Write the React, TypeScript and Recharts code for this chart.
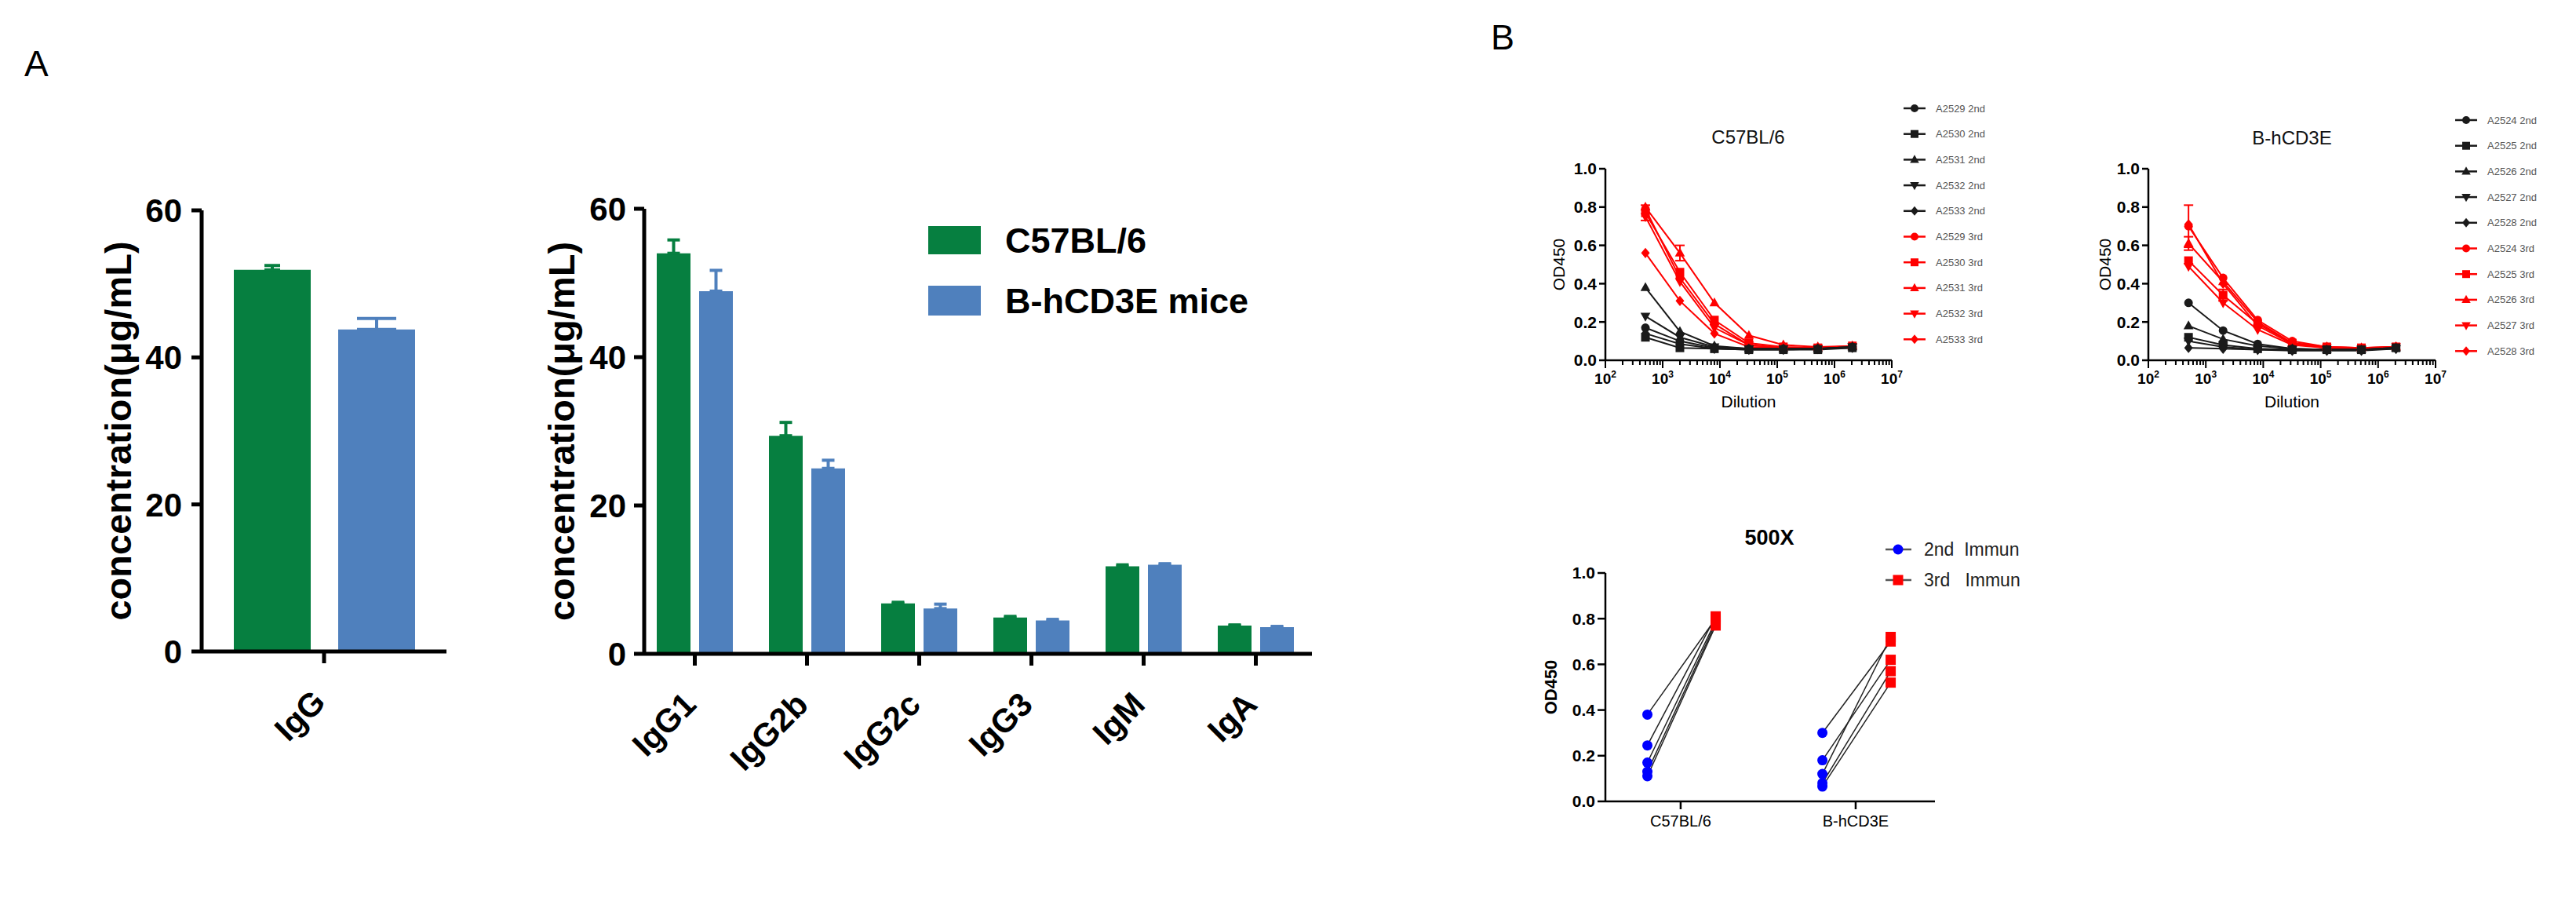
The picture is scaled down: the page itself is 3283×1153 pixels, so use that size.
import React from "react";
import {
  BarChart,
  Bar,
  XAxis,
  YAxis,
  ErrorBar,
  Legend,
  LineChart,
  Line,
  ComposedChart,
  Scatter,
} from "recharts";

const FONT = "'Liberation Sans', Arial, Helvetica, sans-serif";
const GREEN = "#067f40";
const BLUE = "#4f80bd";
const RED = "#ff0000";
const BLACK = "#1a1a1a";
const DOT_BLUE = "#0000ff";

// ---------- panel A: serum Ig (μg/mL), mean + SD
const totalCats = ["IgG"];
const totalC57 = [51.9];
const totalC57Err = [0.6];
const totalHcd = [43.8];
const totalHcdErr = [1.5];

const subCats = ["IgG1", "IgG2b", "IgG2c", "IgG3", "IgM", "IgA"];
const subC57 = [54.0, 29.4, 6.8, 4.9, 11.8, 3.8];
const subC57Err = [1.8, 1.8, 0.15, 0.15, 0.2, 0.1];
const subHcd = [48.9, 25.0, 6.1, 4.5, 12.0, 3.6];
const subHcdErr = [2.8, 1.1, 0.6, 0.15, 0.15, 0.1];

const concTicks = [0, 20, 40, 60];

// ---------- panel B: ELISA titration curves (OD450)
const dilutions = [500, 2000, 8000, 32000, 128000, 512000, 2048000];
const decadeTicks = [1e2, 1e3, 1e4, 1e5, 1e6, 1e7];
const odTicks = [0, 0.2, 0.4, 0.6, 0.8, 1.0];
const markerShapes = ["circle", "square", "up", "down", "diamond"];

const c57Mice = ["A2529", "A2530", "A2531", "A2532", "A2533"];
const c57Second = [
  [0.17, 0.1, 0.065, 0.06, 0.06, 0.06, 0.07],
  [0.12, 0.065, 0.06, 0.055, 0.055, 0.055, 0.065],
  [0.38, 0.15, 0.075, 0.06, 0.06, 0.06, 0.07],
  [0.23, 0.12, 0.07, 0.06, 0.06, 0.06, 0.07],
  [0.14, 0.085, 0.06, 0.055, 0.055, 0.06, 0.065],
];
const c57Third = [
  [0.79, 0.43, 0.19, 0.08, 0.065, 0.065, 0.07],
  [0.77, 0.46, 0.21, 0.09, 0.07, 0.065, 0.075],
  [0.8, 0.56, 0.3, 0.13, 0.08, 0.07, 0.075],
  [0.75, 0.41, 0.17, 0.08, 0.065, 0.065, 0.07],
  [0.56, 0.31, 0.14, 0.07, 0.065, 0.065, 0.07],
];
const c57ThirdErr = [
  [0, 0, 0, 0, 0, 0, 0],
  [0.04, 0, 0, 0, 0, 0, 0],
  [0, 0.04, 0, 0, 0, 0, 0],
  [0, 0, 0, 0, 0, 0, 0],
  [0, 0, 0, 0, 0, 0, 0],
];

const hcdMice = ["A2524", "A2525", "A2526", "A2527", "A2528"];
const hcdSecond = [
  [0.3, 0.155, 0.085, 0.06, 0.055, 0.055, 0.065],
  [0.12, 0.08, 0.06, 0.055, 0.055, 0.055, 0.065],
  [0.18, 0.11, 0.075, 0.06, 0.055, 0.055, 0.065],
  [0.1, 0.07, 0.055, 0.055, 0.055, 0.055, 0.06],
  [0.065, 0.06, 0.055, 0.05, 0.05, 0.05, 0.06],
];
const hcdThird = [
  [0.7, 0.43, 0.21, 0.1, 0.07, 0.065, 0.07],
  [0.52, 0.34, 0.19, 0.09, 0.07, 0.065, 0.07],
  [0.61, 0.41, 0.2, 0.09, 0.07, 0.065, 0.07],
  [0.49, 0.3, 0.16, 0.08, 0.065, 0.06, 0.07],
  [0.71, 0.4, 0.18, 0.085, 0.065, 0.06, 0.07],
];
const hcdThirdErr = [
  [0.11, 0, 0, 0, 0, 0, 0],
  [0, 0.03, 0, 0, 0, 0, 0],
  [0.035, 0, 0, 0, 0, 0, 0],
  [0, 0, 0, 0, 0, 0, 0],
  [0, 0, 0, 0, 0, 0, 0],
];

// ---------- panel B: 500X paired comparison
const immunGroups = ["C57BL/6", "B-hCD3E"];
const c57At500Second = [0.38, 0.245, 0.17, 0.13, 0.11];
const c57At500Third = [0.8, 0.81, 0.79, 0.78, 0.77];
const hcdAt500Second = [0.3, 0.18, 0.12, 0.08, 0.065];
const hcdAt500Third = [0.7, 0.62, 0.72, 0.57, 0.52];

// horizontal offset of 2nd / 3rd columns around each group tick
const SECOND_SHIFT = -0.19;
const THIRD_SHIFT = 0.2;

// ---------- helpers
const logTicks: number[] = [];
decadeTicks.forEach((d, i) => {
  logTicks.push(d);
  if (i < decadeTicks.length - 1) {
    for (let k = 2; k <= 9; k++) logTicks.push(d * k);
  }
});

function barRows(cats: string[], a: number[], aErr: number[], b: number[], bErr: number[]) {
  return cats.map((name, i) => ({
    name,
    c57: a[i],
    c57Err: [0, aErr[i]],
    hcd: b[i],
    hcdErr: [0, bErr[i]],
  }));
}

interface Series {
  key: string;
  name: string;
  shape: string;
  color: string;
  errKey?: string;
}

function buildTitration(mice: string[], second: number[][], third: number[][], thirdErr: number[][]) {
  const series: Series[] = [];
  mice.forEach((m, k) => series.push({ key: `s2_${k}`, name: `${m} 2nd`, shape: markerShapes[k], color: BLACK }));
  mice.forEach((m, k) =>
    series.push({ key: `s3_${k}`, name: `${m} 3rd`, shape: markerShapes[k], color: RED, errKey: `e3_${k}` })
  );
  const rows = dilutions.map((dil, i) => {
    const row: Record<string, number> = { dil };
    mice.forEach((_, k) => {
      row[`s2_${k}`] = second[k][i];
      row[`s3_${k}`] = third[k][i];
      row[`e3_${k}`] = thirdErr[k][i];
    });
    return row;
  });
  return { series, rows };
}

function Marker({ cx, cy, shape, color, r }: { cx: number; cy: number; shape: string; color: string; r: number }) {
  if (shape === "square") return <rect x={cx - r} y={cy - r} width={2 * r} height={2 * r} fill={color} />;
  if (shape === "up")
    return (
      <polygon
        points={`${cx},${cy - r * 1.25} ${cx + r * 1.15},${cy + r * 0.8} ${cx - r * 1.15},${cy + r * 0.8}`}
        fill={color}
      />
    );
  if (shape === "down")
    return (
      <polygon
        points={`${cx},${cy + r * 1.25} ${cx + r * 1.15},${cy - r * 0.8} ${cx - r * 1.15},${cy - r * 0.8}`}
        fill={color}
      />
    );
  if (shape === "diamond")
    return <polygon points={`${cx},${cy - r * 1.2} ${cx + r},${cy} ${cx},${cy + r * 1.2} ${cx - r},${cy}`} fill={color} />;
  return <circle cx={cx} cy={cy} r={r} fill={color} />;
}

function RotTick(props: any) {
  const { x, y, payload } = props;
  const px = x + 4;
  const py = y + 52;
  return (
    <text
      x={px}
      y={py}
      transform={`rotate(-45 ${px} ${py})`}
      textAnchor="end"
      fontSize={42}
      fontWeight="bold"
      fontFamily={FONT}
      fill="#000"
    >
      {payload.value}
    </text>
  );
}

function LogTick(props: any) {
  const { x, y, payload } = props;
  const e = Math.log10(payload.value);
  const major = Math.abs(e - Math.round(e)) < 1e-9;
  return (
    <g>
      <line x1={x} x2={x} y1={y} y2={y + (major ? 10 : 6)} stroke="#000" strokeWidth={2} />
      {major && (
        <text x={x} y={y + 30} textAnchor="middle" fontSize={19} fontWeight="bold" fontFamily={FONT} fill="#000">
          10
          <tspan dy={-8} fontSize={12}>
            {Math.round(e)}
          </tspan>
        </text>
      )}
    </g>
  );
}

const barAxisLine = { stroke: "#000", strokeWidth: 5 };
const barTickFont = { fontSize: 42, fontWeight: "bold", fill: "#000", fontFamily: FONT };
const concLabel = {
  value: "concentration(μg/mL)",
  angle: -90,
  position: "center",
  fontSize: 47,
  fontWeight: "bold",
  fill: "#000",
  fontFamily: FONT,
};

function TotalIgChart() {
  const rows = barRows(totalCats, totalC57, totalC57Err, totalHcd, totalHcdErr);
  return (
    <BarChart width={620} height={1000} data={rows} margin={{ top: 268, right: 51, bottom: 50, left: 43 }} barGap={35}>
      <XAxis
        dataKey="name"
        height={120}
        interval={0}
        tick={RotTick}
        tickSize={15}
        tickMargin={0}
        axisLine={barAxisLine}
        tickLine={barAxisLine}
      />
      <YAxis
        domain={[0, 60]}
        ticks={concTicks}
        width={214}
        tick={barTickFont}
        tickSize={13}
        tickMargin={12}
        axisLine={barAxisLine}
        tickLine={barAxisLine}
        label={concLabel as any}
      />
      <Bar dataKey="c57" fill={GREEN} barSize={98} isAnimationActive={false}>
        <ErrorBar dataKey="c57Err" width={10} strokeWidth={4} stroke={GREEN} isAnimationActive={false} />
      </Bar>
      <Bar dataKey="hcd" fill={BLUE} barSize={98} isAnimationActive={false}>
        <ErrorBar dataKey="hcdErr" width={25} strokeWidth={4} stroke={BLUE} isAnimationActive={false} />
      </Bar>
    </BarChart>
  );
}

function BarLegend() {
  return (
    <svg width={460} height={130} style={{ overflow: "visible" }}>
      <rect x={0} y={2} width={67} height={36} fill={GREEN} />
      <text x={98} y={36} fontSize={45} fontWeight="bold" fontFamily={FONT} fill="#000">
        C57BL/6
      </text>
      <rect x={0} y={78} width={67} height={38} fill={BLUE} />
      <text x={98} y={113} fontSize={45} fontWeight="bold" fontFamily={FONT} fill="#000">
        B-hCD3E mice
      </text>
    </svg>
  );
}

function SubclassChart() {
  const rows = barRows(subCats, subC57, subC57Err, subHcd, subHcdErr);
  return (
    <BarChart width={1100} height={1000} data={rows} margin={{ top: 266, right: 28, bottom: 47, left: 9 }} barGap={11}>
      <XAxis
        dataKey="name"
        height={120}
        interval={0}
        padding={{ left: -7, right: 0 }}
        tick={RotTick}
        tickSize={15}
        tickMargin={0}
        axisLine={barAxisLine}
        tickLine={barAxisLine}
      />
      <YAxis
        domain={[0, 60]}
        ticks={concTicks}
        width={212}
        tick={barTickFont}
        tickSize={13}
        tickMargin={10}
        axisLine={barAxisLine}
        tickLine={barAxisLine}
        label={concLabel as any}
      />
      <Bar dataKey="c57" fill={GREEN} barSize={43} isAnimationActive={false}>
        <ErrorBar dataKey="c57Err" width={8} strokeWidth={4} stroke={GREEN} isAnimationActive={false} />
      </Bar>
      <Bar dataKey="hcd" fill={BLUE} barSize={43} isAnimationActive={false}>
        <ErrorBar dataKey="hcdErr" width={8} strokeWidth={4} stroke={BLUE} isAnimationActive={false} />
      </Bar>
      <Legend
        layout="horizontal"
        verticalAlign="middle"
        align="center"
        wrapperStyle={{ position: "absolute", left: 583, top: 286, width: 460, height: 130 }}
        content={() => <BarLegend />}
      />
    </BarChart>
  );
}

function TitrationLegend({ series }: { series: Series[] }) {
  const step = 32.7;
  return (
    <svg width={150} height={series.length * step + 10} style={{ overflow: "visible" }}>
      {series.map((s, i) => {
        const cy = 16 + i * step;
        return (
          <g key={s.key}>
            <line x1={0} x2={28} y1={cy} y2={cy} stroke={s.color} strokeWidth={2.5} />
            <Marker cx={14} cy={cy} shape={s.shape} color={s.color} r={5} />
            <text x={41} y={cy + 4.5} fontSize={13} fontFamily={FONT} fill="#555">
              {s.name}
            </text>
          </g>
        );
      })}
    </svg>
  );
}

function TitrationChart({
  mice,
  second,
  third,
  thirdErr,
  width,
  yAxisWidth,
  marginLeft,
  marginRight,
  legendLeft,
  legendTop,
}: {
  mice: string[];
  second: number[][];
  third: number[][];
  thirdErr: number[][];
  width: number;
  yAxisWidth: number;
  marginLeft: number;
  marginRight: number;
  legendLeft: number;
  legendTop: number;
}) {
  const { series, rows } = buildTitration(mice, second, third, thirdErr);
  const drawOrder = [...series.slice(mice.length), ...series.slice(0, mice.length)];
  return (
    <LineChart width={width} height={480} data={rows} margin={{ top: 115, right: marginRight, bottom: 15, left: marginLeft }}>
      <XAxis
        dataKey="dil"
        type="number"
        scale="log"
        domain={[100, 1e7]}
        ticks={logTicks}
        interval={0}
        tick={LogTick}
        tickSize={0}
        tickMargin={0}
        tickLine={false}
        axisLine={{ stroke: "#000", strokeWidth: 2.5 }}
        height={106}
        label={{ value: "Dilution", position: "center", fontSize: 21, fill: "#000", fontFamily: FONT } as any}
      />
      <YAxis
        type="number"
        domain={[0, 1]}
        ticks={odTicks}
        tickFormatter={(v: number) => v.toFixed(1)}
        width={yAxisWidth}
        tickSize={8}
        tickMargin={3}
        tick={{ fontSize: 21, fontWeight: "bold", fill: "#000", fontFamily: FONT }}
        axisLine={{ stroke: "#000", strokeWidth: 2.5 }}
        tickLine={{ stroke: "#000", strokeWidth: 2.5 }}
        label={{ value: "OD450", angle: -90, position: "center", fontSize: 21, fill: "#000", fontFamily: FONT } as any}
      />
      {drawOrder.map((s) => (
        <Line
          key={s.key}
          dataKey={s.key}
          stroke={s.color}
          strokeWidth={2}
          isAnimationActive={false}
          activeDot={false}
          dot={(p: any) => <Marker key={`${s.key}-${p.index}`} cx={p.cx} cy={p.cy} shape={s.shape} color={s.color} r={5.5} />}
        >
          {s.errKey && (
            <ErrorBar dataKey={s.errKey} width={6} strokeWidth={2} stroke={s.color} direction="y" isAnimationActive={false} />
          )}
        </Line>
      ))}
      <Legend
        layout="horizontal"
        verticalAlign="middle"
        align="center"
        wrapperStyle={{ position: "absolute", left: legendLeft, top: legendTop, width: 150, height: 340 }}
        content={() => <TitrationLegend series={series} />}
      />
    </LineChart>
  );
}

function ImmunLegend() {
  return (
    <svg width={200} height={80} style={{ overflow: "visible" }}>
      <line x1={0} x2={33} y1={15} y2={15} stroke="#555" strokeWidth={2.5} />
      <circle cx={16} cy={15} r={6.5} fill={DOT_BLUE} />
      <text x={49} y={23} fontSize={23} fontFamily={FONT} fill="#222" style={{ whiteSpace: "pre" }}>
        {"2nd  Immun"}
      </text>
      <line x1={0} x2={33} y1={54} y2={54} stroke="#555" strokeWidth={2.5} />
      <rect x={9.5} y={47.5} width={13} height={13} fill={RED} />
      <text x={49} y={62} fontSize={23} fontFamily={FONT} fill="#222" style={{ whiteSpace: "pre" }}>
        {"3rd   Immun"}
      </text>
    </svg>
  );
}

function PairedChart() {
  const groups = [
    { pos: 1, second: c57At500Second, third: c57At500Third },
    { pos: 2, second: hcdAt500Second, third: hcdAt500Third },
  ];
  const pairs: { x: number; y: number }[][] = [];
  const secondPts: { x: number; y: number }[] = [];
  const thirdPts: { x: number; y: number }[] = [];
  groups.forEach((g) => {
    g.second.forEach((v, i) => {
      const a = { x: g.pos + SECOND_SHIFT, y: v };
      const b = { x: g.pos + THIRD_SHIFT, y: g.third[i] };
      pairs.push([a, b]);
      secondPts.push(a);
      thirdPts.push(b);
    });
  });
  return (
    <ComposedChart width={700} height={553} margin={{ top: 130, right: 134, bottom: 72, left: 6 }}>
      <XAxis
        dataKey="x"
        type="number"
        domain={[0.57, 2.453]}
        ticks={[1, 2]}
        interval={0}
        tickFormatter={(v: number) => immunGroups[v - 1]}
        height={60}
        tickSize={10}
        tickMargin={8}
        tick={{ fontSize: 20, fill: "#000", fontFamily: FONT }}
        axisLine={{ stroke: "#000", strokeWidth: 2.5 }}
        tickLine={{ stroke: "#000", strokeWidth: 2.5 }}
      />
      <YAxis
        dataKey="y"
        type="number"
        domain={[0, 1]}
        ticks={odTicks}
        tickFormatter={(v: number) => v.toFixed(1)}
        width={140}
        tickSize={10}
        tickMargin={3}
        tick={{ fontSize: 21, fontWeight: "bold", fill: "#000", fontFamily: FONT }}
        axisLine={{ stroke: "#000", strokeWidth: 2.5 }}
        tickLine={{ stroke: "#000", strokeWidth: 2.5 }}
        label={{ value: "OD450", angle: -90, position: "center", fontSize: 22, fontWeight: "bold", fill: "#000", fontFamily: FONT } as any}
      />
      {pairs.map((p, i) => (
        <Line
          key={`pair-${i}`}
          data={p}
          dataKey="y"
          stroke="#222"
          strokeWidth={1.5}
          dot={false}
          activeDot={false}
          isAnimationActive={false}
        />
      ))}
      <Scatter
        data={secondPts}
        isAnimationActive={false}
        shape={(p: any) => <circle cx={p.cx} cy={p.cy} r={6.5} fill={DOT_BLUE} />}
      />
      <Scatter
        data={thirdPts}
        isAnimationActive={false}
        shape={(p: any) => <rect x={p.cx - 6.5} y={p.cy - 6.5} width={13} height={13} fill={RED} />}
      />
      <Legend
        layout="horizontal"
        verticalAlign="middle"
        align="center"
        wrapperStyle={{ position: "absolute", left: 503, top: 85, width: 200, height: 80 }}
        content={() => <ImmunLegend />}
      />
    </ComposedChart>
  );
}

export default function App() {
  const place = (left: number, top: number): React.CSSProperties => ({ position: "absolute", left, top });
  return (
    <div
      style={{
        position: "absolute",
        left: 0,
        top: 0,
        width: 3283,
        height: 1153,
        background: "#fff",
        overflow: "hidden",
        fontFamily: FONT,
      }}
    >
      <div style={place(0, 0)}>
        <TotalIgChart />
      </div>
      <div style={place(600, 0)}>
        <SubclassChart />
      </div>
      <div style={place(1900, 100)}>
        <TitrationChart
          mice={c57Mice}
          second={c57Second}
          third={c57Third}
          thirdErr={c57ThirdErr}
          width={700}
          yAxisWidth={118}
          marginLeft={28}
          marginRight={189}
          legendLeft={526}
          legendTop={22}
        />
      </div>
      <div style={place(2592, 100)}>
        <TitrationChart
          mice={hcdMice}
          second={hcdSecond}
          third={hcdThird}
          thirdErr={hcdThirdErr}
          width={691}
          yAxisWidth={110}
          marginLeft={36}
          marginRight={179}
          legendLeft={537}
          legendTop={37}
        />
      </div>
      <div style={place(1900, 600)}>
        <PairedChart />
      </div>
      <svg width={3283} height={1153} style={{ position: "absolute", left: 0, top: 0, pointerEvents: "none" }}>
        <text x={31} y={97} fontSize={46} fontFamily={FONT} fill="#000">
          A
        </text>
        <text x={1900} y={63} fontSize={45} fontFamily={FONT} fill="#000">
          B
        </text>
        <text x={2228} y={183} textAnchor="middle" fontSize={24} fontFamily={FONT} fill="#111">
          C57BL/6
        </text>
        <text x={2921} y={184} textAnchor="middle" fontSize={24} fontFamily={FONT} fill="#111">
          B-hCD3E
        </text>
        <text x={2255} y={694} textAnchor="middle" fontSize={27} fontWeight="bold" fontFamily={FONT} fill="#000">
          500X
        </text>
      </svg>
    </div>
  );
}
